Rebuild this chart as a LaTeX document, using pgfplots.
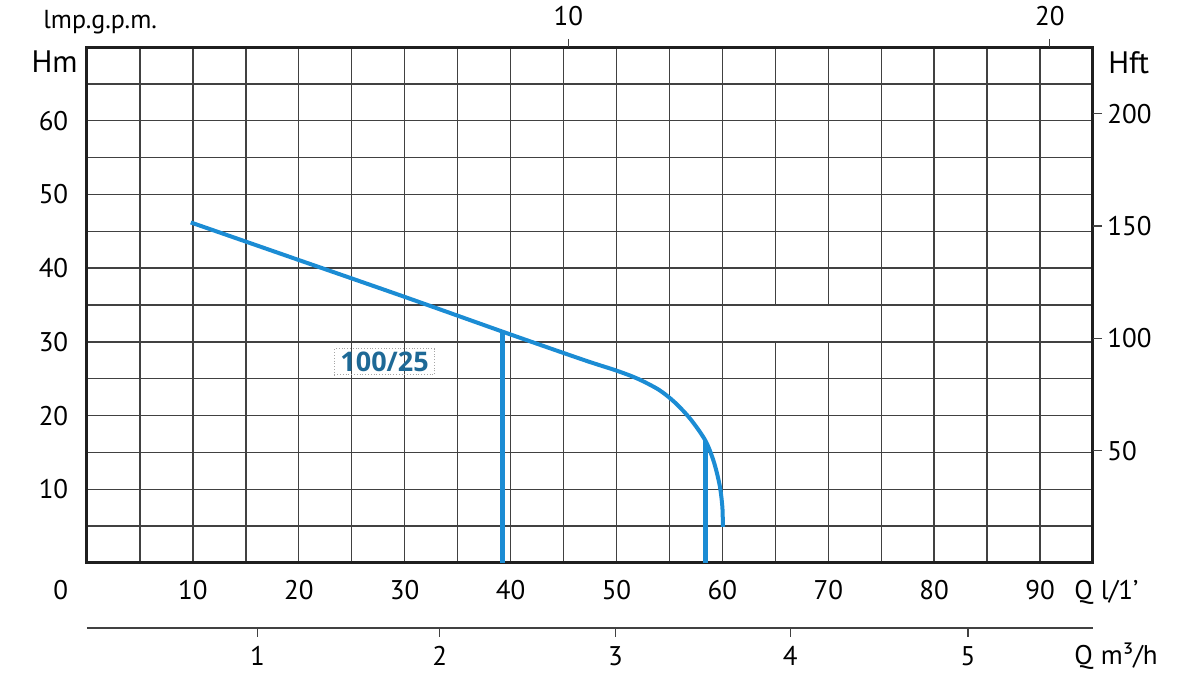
\documentclass[border=0pt]{standalone}
\usepackage{pgfplots}
\pgfplotsset{compat=1.18}
\usepackage{fontspec}
\setmainfont{PT Sans}
\newfontfamily\lblfont{Open Sans}
\definecolor{curveblue}{RGB}{27,140,212}
\definecolor{lblblue}{RGB}{30,105,150}
\definecolor{gridgray}{RGB}{65,65,65}
\newcommand{\tfont}{\fontsize{13.5}{16}\selectfont}
\newcommand{\hfont}{\fontsize{15.5}{18}\selectfont}
\begin{document}
\begin{tikzpicture}
\useasboundingbox (-43.5pt,-68.5pt) rectangle (556.5pt,281.5pt);
\pgfplotsset{every axis/.append style={scale only axis, width=503pt, height=258pt, at={(0,0)}, anchor=south west, /pgf/number format/assume math mode=true}}
% main axis
\begin{axis}[
  xmin=0,xmax=95,ymin=0,ymax=70,
  xtick={10,20,...,90}, minor xtick={5,15,...,95},
  ytick={10,20,...,60}, minor ytick={5,15,...,65},
  grid=both,
  major grid style={line width=0.7pt, gridgray},
  minor grid style={line width=0.7pt, gridgray},
  axis line style={line width=1.5pt, black!88},
  major tick length=0pt, minor tick length=0pt,
  tick pos=left,
  xticklabel style={font=\tfont, anchor=base, inner sep=0pt, yshift=-18.25pt},
  yticklabel style={font=\tfont, anchor=east, inner sep=0pt, xshift=-9.2pt},
  clip=false,
]
\fill[white] (axis cs:64.5,30.15) rectangle (axis cs:70.5,34.85);
\addplot[curveblue, line width=2.5pt] coordinates {(39.2,0) (39.2,31.35)};
\addplot[curveblue, line width=2.5pt] coordinates {(58.4,0) (58.4,16.6)};
\addplot[curveblue, line width=2pt, smooth, tension=0.5] coordinates {
 (9.8,46.2) (20,41.1) (30,36.1) (40,31.0) (47,27.5) (50,26.1) (52,25.0) (54,23.5)
 (55.5,21.8) (57,19.5) (58.4,16.6) (59.2,13.7) (59.75,10.5) (60.0,7.6) (60.05,4.9)};
\node[draw=gray!70, densely dotted, text=lblblue, font=\lblfont\bfseries\fontsize{13.5}{16}\selectfont,
      inner xsep=3pt, inner ysep=1.5pt] at (axis cs:28.1,27.3) {100/25};
\end{axis}
% right Hft axis
\begin{axis}[
  xmin=0,xmax=95, ymin=0, ymax=229.659,
  axis x line=none, axis y line*=right,
  y axis line style={draw=none},
  ytick={50,100,150,200},
  tick align=outside, major tick length=4.5pt,
  tick style={line width=0.6pt, gridgray},
  yticklabel style={font=\tfont, anchor=west, inner sep=0pt, xshift=2.5pt},
]
\end{axis}
% top Imp gpm axis
\begin{axis}[
  xmin=0,xmax=20.8973, ymin=0,ymax=1,
  axis y line=none, axis x line*=top,
  x axis line style={draw=none},
  xtick={10,20}, tick align=outside, major tick length=4pt,
  tick style={line width=0.6pt, gridgray},
  xticklabel style={font=\tfont, anchor=base, inner sep=0pt, yshift=6.5pt},
]
\end{axis}
% m3/h axis
\begin{axis}[
  at={(0,-32.5pt)}, height=10pt,
  xmin=0,xmax=95,ymin=0,ymax=1,
  axis y line=none, axis x line*=bottom,
  x axis line style={line width=0.75pt, gridgray, -},
  xtick={16.1,33.3,49.9,66.4,83.2}, xticklabels={1,2,3,4,5},
  tick align=outside, major tick length=4.5pt,
  tick style={line width=0.6pt, gridgray},
  xticklabel style={font=\tfont, anchor=base, inner sep=0pt, yshift=-14.25pt},
]
\end{axis}
\node[anchor=base east, font=\tfont, inner sep=0pt] at (-9.2pt,-18.25pt) {0};
\node[anchor=east, font=\hfont, inner sep=0pt] at (-4.5pt,250.5pt) {Hm};
\node[anchor=west, font=\hfont, inner sep=0pt] at (510.5pt,250pt) {Hft};
\node[anchor=base west, font=\fontsize{13}{15}\selectfont, inner sep=0pt] at (-22pt,267.25pt) {lmp.g.p.m.};
\node[anchor=base west, font=\tfont, inner sep=0pt] at (493.5pt,-18.25pt) {Q\hspace{4pt}l/1'};
\node[anchor=base west, font=\tfont, inner sep=0pt] at (493.5pt,-50.75pt) {Q\hspace{4pt}m³/h};
\end{tikzpicture}
\end{document}
